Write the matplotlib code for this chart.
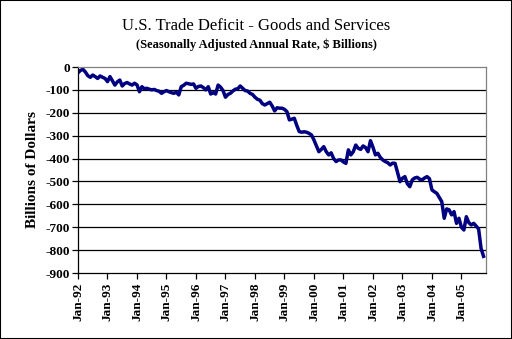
import matplotlib
matplotlib.use("Agg")
import matplotlib.pyplot as plt
from matplotlib.patches import Rectangle
import numpy as np

# Monthly trade balance, annualized ($ billions), Jan-1992 .. Oct-2005
y1992 = [-25, -15, -10, -22, -38, -45, -35, -42, -50, -39, -45, -50]
y1993 = [-64, -42, -60, -79, -65, -57, -83, -72, -68, -74, -79, -71]
y1994 = [-78, -108, -86, -95, -93, -97, -100, -98, -103, -106, -115, -108]
y1995 = [-103, -108, -112, -115, -110, -122, -86, -80, -71, -73, -76, -74]
y1996 = [-93, -85, -83, -90, -100, -86, -118, -112, -118, -79, -88, -103]
y1997 = [-132, -120, -115, -105, -97, -95, -83, -93, -103, -105, -115, -120]
y1998 = [-132, -141, -145, -160, -166, -160, -154, -170, -192, -178, -180, -180]
y1999 = [-185, -195, -231, -228, -224, -255, -282, -285, -283, -285, -290, -297]
y2000 = [-319, -345, -370, -360, -348, -370, -384, -375, -400, -413, -406, -406]
y2001 = [-415, -421, -362, -384, -370, -341, -355, -360, -345, -352, -370, -322]
y2002 = [-350, -384, -377, -395, -406, -413, -418, -428, -420, -421, -460, -501]
y2003 = [-486, -479, -510, -523, -493, -485, -482, -490, -493, -485, -479, -488]
y2004 = [-537, -545, -552, -570, -588, -661, -620, -624, -646, -632, -683, -661]
y2005 = [-700, -712, -654, -680, -690, -683, -695, -708, -793, -827]

values = (y1992 + y1993 + y1994 + y1995 + y1996 + y1997 + y1998 + y1999 +
          y2000 + y2001 + y2002 + y2003 + y2004 + y2005)

x_labels = ["Jan-92", "Jan-93", "Jan-94", "Jan-95", "Jan-96", "Jan-97", "Jan-98",
            "Jan-99", "Jan-00", "Jan-01", "Jan-02", "Jan-03", "Jan-04", "Jan-05"]
y_ticks = [0, -100, -200, -300, -400, -500, -600, -700, -800, -900]

serif = ["Liberation Serif", "DejaVu Serif"]

W, H = 512, 339
fig = plt.figure(figsize=(W / 100, H / 100), dpi=100)
fig.patch.set_facecolor("white")
fig.patches.append(Rectangle((0, 0), 1, 1, transform=fig.transFigure,
                             fill=False, edgecolor="black", linewidth=1.5))

ax = fig.add_axes([78 / W, 1 - 273 / H, 408 / W, 206 / H])
months = np.arange(len(values))
ax.plot(months, values, color="#000080", linewidth=2.5, solid_joinstyle="round")

ax.set_xlim(0, 166)
ax.set_ylim(-900, 0)

ax.set_yticks(y_ticks)
ax.set_yticklabels([str(v) for v in y_ticks], fontfamily=serif,
                   fontweight="bold", fontsize=9.5)
ax.set_xticks(np.arange(len(x_labels)) * 12)
ax.set_xticklabels(x_labels, rotation=90, fontfamily=serif,
                   fontweight="bold", fontsize=9.5)

for v in y_ticks[1:-1]:
    ax.axhline(v, color="black", linewidth=0.9, zorder=0)

ax.tick_params(axis="both", direction="out", length=4, width=0.9, color="black")
ax.tick_params(axis="y", pad=2)
ax.tick_params(axis="x", pad=3)
for s in ["left", "bottom"]:
    ax.spines[s].set_color("black")
    ax.spines[s].set_linewidth(0.9)
for s in ["top", "right"]:
    ax.spines[s].set_color("#808080")
    ax.spines[s].set_linewidth(0.9)

fig.text(0.5, 0.923, "U.S. Trade Deficit - Goods and Services", ha="center",
         va="center", fontfamily=serif, fontsize=12, color="black")
fig.text(0.5, 0.867, "(Seasonally Adjusted Annual Rate, $ Billions)", ha="center",
         va="center", fontfamily=serif, fontweight="bold", fontsize=9)
fig.text(33 / W, 1 - 170 / H, "Billions of Dollars", rotation=90, ha="center",
         va="center", fontfamily=serif, fontweight="bold", fontsize=11)

fig.savefig("out.png", dpi=100)
